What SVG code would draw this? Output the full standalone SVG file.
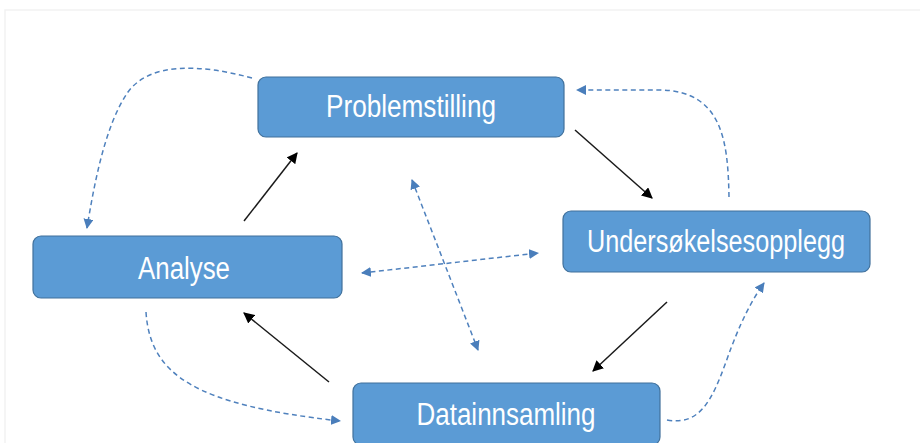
<svg xmlns="http://www.w3.org/2000/svg" width="920" height="443" viewBox="0 0 920 443">
  <style>
    .box { fill: #5B9BD5; stroke: #41719C; stroke-width: 1.2; }
    .lbl { font-family: "Liberation Sans", "DejaVu Sans", sans-serif; font-size: 31px; fill: #ffffff; text-anchor: middle; }
    .solid { fill: none; stroke: #1a1a1a; stroke-width: 1.5; marker-end: url(#blk); }
    .dash { fill: none; stroke: #4F81BD; stroke-width: 1.5; stroke-dasharray: 5 3.5; marker-end: url(#blu); }
    .dash2 { marker-start: url(#bluS); }
  </style>
  <defs>
    <marker id="blk" viewBox="0 0 10 10" refX="9" refY="5" markerWidth="11" markerHeight="11" markerUnits="userSpaceOnUse" orient="auto">
      <path d="M0,0 L10,5 L0,10 Z" fill="#000000"/>
    </marker>
    <marker id="blu" viewBox="0 0 10 10" refX="9" refY="5" markerWidth="10" markerHeight="10" markerUnits="userSpaceOnUse" orient="auto">
      <path d="M0,0 L10,5 L0,10 Z" fill="#4A7EBB"/>
    </marker>
    <marker id="bluS" viewBox="0 0 10 10" refX="1" refY="5" markerWidth="10" markerHeight="10" markerUnits="userSpaceOnUse" orient="auto">
      <path d="M10,0 L0,5 L10,10 Z" fill="#4A7EBB"/>
    </marker>
  </defs>

  <rect x="0" y="0" width="920" height="443" fill="#ffffff"/>
  <rect x="5" y="10" width="930" height="450" fill="none" stroke="#f2f2f2" stroke-width="1.5"/>

  <g id="connectors">
    <!-- main cycle -->
    <line class="solid" x1="244" y1="221" x2="297" y2="153"/>
    <line class="solid" x1="575" y1="130" x2="652" y2="198"/>
    <line class="solid" x1="667" y1="302" x2="593" y2="371"/>
    <line class="solid" x1="329" y1="382" x2="244" y2="313"/>
    <!-- feedback loops -->
    <path class="dash" d="M252,78 C200,64 150,62 128,92 C105,125 94,185 87,228"/>
    <path class="dash" d="M729,197 C728,140 722,91 660,90 L577,90"/>
    <path class="dash" d="M146,312 C150,375 195,405 340,421"/>
    <path class="dash" d="M667,420 C700,426 712,400 726,362 C740,322 752,300 764,283"/>
    <!-- cross links -->
    <line class="dash dash2" x1="412" y1="180" x2="478" y2="350"/>
    <line class="dash dash2" x1="362" y1="273" x2="538" y2="253"/>
  </g>

  <g id="problemstilling">
    <rect class="box" x="258" y="77" width="306" height="60" rx="8"/>
    <text class="lbl" x="411" y="117" textLength="170" lengthAdjust="spacingAndGlyphs">Problemstilling</text>
  </g>
  <g id="undersokelsesopplegg">
    <rect class="box" x="563" y="211" width="307" height="61" rx="8"/>
    <text class="lbl" x="716" y="252" textLength="258" lengthAdjust="spacingAndGlyphs">Undersøkelsesopplegg</text>
  </g>
  <g id="analyse">
    <rect class="box" x="33" y="236" width="309" height="62" rx="8"/>
    <text class="lbl" x="184" y="279" textLength="92" lengthAdjust="spacingAndGlyphs">Analyse</text>
  </g>
  <g id="datainnsamling">
    <rect class="box" x="353" y="383" width="307" height="62" rx="8"/>
    <text class="lbl" x="506" y="425" textLength="179" lengthAdjust="spacingAndGlyphs">Datainnsamling</text>
  </g>
</svg>
